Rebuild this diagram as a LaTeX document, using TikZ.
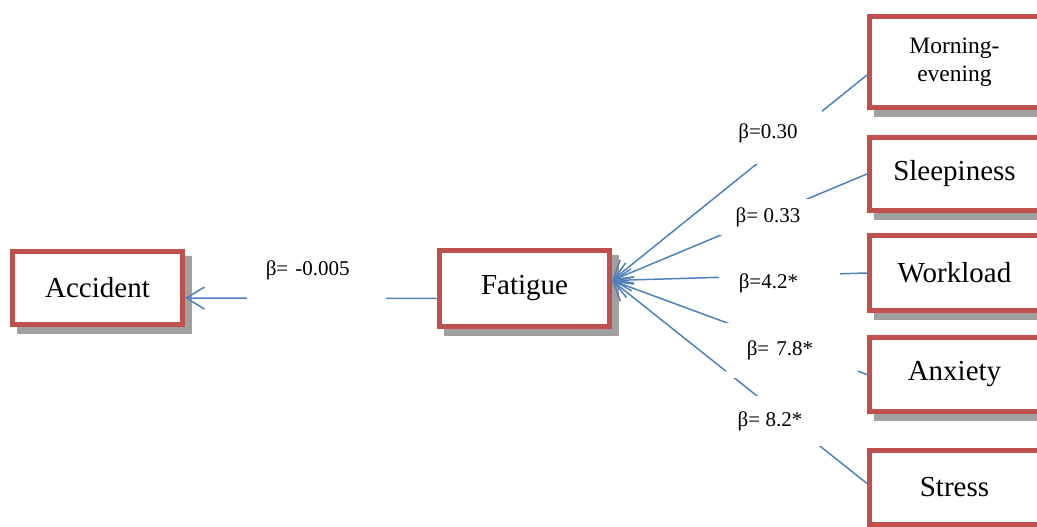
\documentclass[tikz,border=0pt]{standalone}
\usepackage{fontspec}
\setmainfont{Liberation Serif}
\usetikzlibrary{arrows.meta, shadows}

\definecolor{boxred}{HTML}{C0504D}
\definecolor{pathblue}{HTML}{4F81BD}
\definecolor{shadowgray}{HTML}{A0A0A0}

\begin{document}
\begin{tikzpicture}[
            x = 1pt, y = -1pt, % one unit per pixel, y grows downwards
            > = {Straight Barb[length=18pt, width=22pt]}, % open arrow head
            line width = 1.5pt
        ]

        \tikzstyle{box}=[
            draw = boxred,
            line width = 5pt,
            fill = white,
            minimum width = 170pt,
            font = \fontsize{29}{34}\selectfont,
            general shadow = {fill = shadowgray, draw = shadowgray, line width = 5pt,
                              shadow xshift = 7pt, shadow yshift = -7pt}
        ]
        \tikzstyle{beta}=[
            fill = white,
            inner ysep = 0pt,
            font = \fontsize{21}{25}\selectfont
        ]

        \useasboundingbox (0,0) rectangle (1037,527);

        \node[box, minimum height = 73pt] (acc)    at (  97.5, 288   ) {Accident};
        \node[box, minimum height = 76pt] (fat)    at ( 524.5, 288.5 ) {Fatigue};
        \node[box, minimum height = 91pt, align = center,
              font = \fontsize{23.5}{28}\selectfont]
                                          (morn)   at ( 954.5,  62   ) {Morning-\\evening};
        \node[box, minimum height = 73pt] (sleep)  at ( 954.5, 174   ) {Sleepiness};
        \node[box, minimum height = 75pt] (work)   at ( 954.5, 273   ) {Workload};
        \node[box, minimum height = 74pt] (anx)    at ( 954.5, 374.5 ) {Anxiety};
        \node[box, minimum height = 74pt] (stress) at ( 954.5, 487.5 ) {Stress};

        % all paths end on the fatigue box
        \path[->, pathblue] ([yshift=-10pt]fat.west)     edge ([yshift=-10pt]acc.east);
        \path[->, pathblue] ([yshift=-13pt]morn.west)    edge ([yshift=8pt]fat.east);
        \path[->, pathblue] (sleep.west)                 edge ([yshift=8pt]fat.east);
        \path[->, pathblue] (work.west)                  edge ([yshift=8pt]fat.east);
        \path[->, pathblue] (anx.west)                   edge ([yshift=8pt]fat.east);
        \path[->, pathblue] ([yshift=4pt]stress.west)    edge ([yshift=8pt]fat.east);

        % white text boxes lie over the paths
        \node[beta, anchor = west, align = left, inner xsep = 19pt, text width = 101pt,
              minimum height = 64pt]                      (b0) at ( 246, 270   ) {β= -0.005};
        \node[beta, minimum width = 108pt, minimum height = 62pt] (b1) at ( 768, 133   ) {β=0.30};
        \node[beta, minimum width = 100pt, minimum height = 36pt] (b2) at ( 768, 217   ) {β= 0.33};
        \node[beta, anchor = west, align = left, inner xsep = 20pt, text width = 81pt,
              minimum height = 30pt]                      (b3) at ( 718, 283   ) {β=4.2*};
        \node[beta, anchor = west, align = left, inner xsep = 21pt, text width = 90pt,
              minimum height = 55pt]                      (b4) at ( 725, 350.5 ) {β= 7.8*};
        \node[beta, minimum width = 112pt, minimum height = 50pt] (b5) at ( 770, 421   ) {β= 8.2*};

    \end{tikzpicture}
\end{document}
